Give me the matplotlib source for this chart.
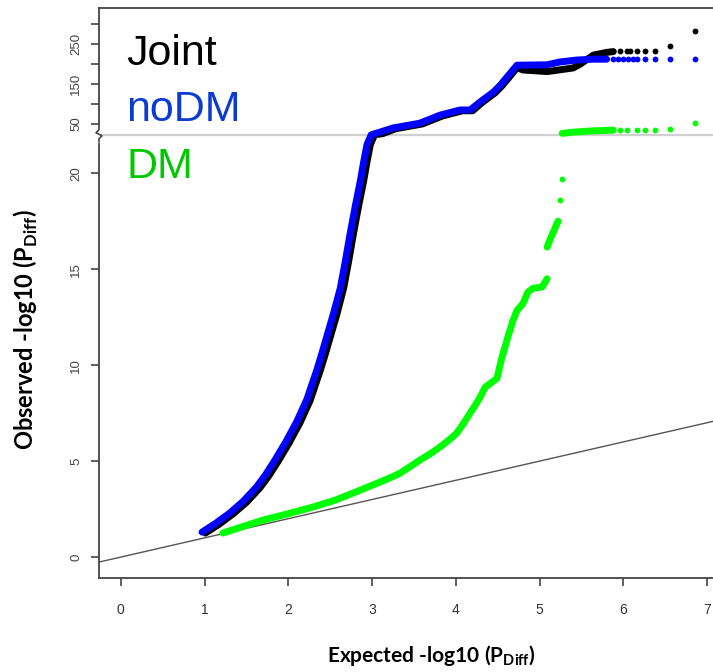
import numpy as np
import matplotlib
matplotlib.use("Agg")
import matplotlib.pyplot as plt

plt.rcParams.update({
    "font.family": ["Liberation Sans", "DejaVu Sans"],
    "mathtext.fontset": "custom",
    "mathtext.rm": "Lato",
    "mathtext.bf": "Lato:bold",
})

# QQ data (expected vs observed -log10 P)
# dense parts are drawn as thick bands, tails as single dots
joint_x = [1.01, 1.17, 1.34, 1.50, 1.66, 1.77, 1.88, 2.01, 2.14, 2.26, 2.38,
           2.44, 2.50, 2.58, 2.66, 2.72, 2.78, 2.84, 2.90, 2.94, 2.98, 3.03,
           3.13, 3.28, 3.60, 3.84, 4.08, 4.20, 4.31, 4.47, 4.55, 4.63, 4.73, 4.80,
           5.09, 5.40, 5.48, 5.64, 5.80, 5.88]
joint_y = [1.25, 1.70, 2.25, 2.85, 3.60, 4.25, 5.00, 5.95, 7.00, 8.15, 9.70,
           10.55, 11.45, 12.65, 14.0, 15.4, 16.9, 18.3, 19.6, 20.6, 21.5, 22.0,
           25, 37, 49, 69, 82, 82, 102, 127, 144, 164, 190, 184,
           180, 189, 198, 221, 228, 230]
joint_tail_x = [5.96, 6.04, 6.08, 6.16, 6.26, 6.38, 6.56, 6.86]
joint_tail_y = [231, 232, 232, 232, 232, 232, 245, 282]

nodm_x = [0.97, 1.13, 1.30, 1.46, 1.62, 1.73, 1.84, 1.97, 2.10, 2.22, 2.34,
          2.40, 2.46, 2.54, 2.62, 2.68, 2.74, 2.80, 2.86, 2.90, 2.94, 2.99,
          3.10, 3.25, 3.57, 3.81, 4.05, 4.17, 4.29, 4.45, 4.53, 4.61, 4.73,
          5.09, 5.24, 5.45, 5.64, 5.80]
nodm_y = [1.30, 1.75, 2.29, 2.90, 3.65, 4.30, 5.05, 6.00, 7.05, 8.20, 9.74,
          10.6, 11.5, 12.7, 14.0, 15.4, 16.9, 18.3, 19.6, 20.6, 21.5, 22.0,
          29, 39, 51, 71, 84, 84, 104, 129, 146, 166, 196,
          197, 204, 209, 211, 211]
nodm_tail_x = [5.88, 5.93, 5.99, 6.05, 6.11, 6.16, 6.26, 6.38, 6.56, 6.86]
nodm_tail_y = [211, 211, 211, 211, 211, 211, 211, 211, 211, 211]

dm_x = [1.22, 1.45, 1.70, 2.00, 2.29, 2.55, 2.77, 2.95, 3.09, 3.20, 3.33, 3.45,
        3.57, 3.70, 3.81, 3.91, 4.01, 4.09, 4.17, 4.23, 4.29, 4.35,
        4.49, 4.55, 4.62, 4.68, 4.73, 4.80, 4.86, 4.92, 5.03, 5.09]
dm_y = [1.25, 1.58, 1.93, 2.26, 2.6, 2.95, 3.33, 3.65, 3.9, 4.1, 4.36, 4.70,
        5.05, 5.40, 5.73, 6.07, 6.45, 6.95, 7.5, 7.9, 8.33, 8.85,
        9.3, 10.4, 11.45, 12.3, 12.85, 13.2, 13.8, 14.0, 14.07, 14.5]
dm_mid_x = [5.09, 5.13, 5.17, 5.22]
dm_mid_y = [16.15, 16.6, 17.0, 17.5]
dm_top_x = [5.27, 5.40, 5.57, 5.75, 5.88]
dm_top_y = [25.5, 28.5, 31, 32.5, 33.5]
dm_tail_x = [5.24, 5.27, 5.96, 6.04, 6.16, 6.26, 6.38, 6.56, 6.86]
dm_tail_y = [18.6, 19.7, 34, 34, 34, 34, 34.5, 36, 52]

labels = ["Joint", "noDM", "DM"]
colors = ["black", "#0000ff", "#00ff00"]
text_colors = ["black", "#0b3bd0", "#00c800"]

BREAK = 22.0
RATIO = 0.4 / 19.2
XLIM = (-0.26, 7.07)
YLIM = (-1.09, 339)


def fwd(v):
    v = np.asarray(v, dtype=float)
    return np.where(v <= BREAK, v, BREAK + (v - BREAK) * RATIO)


def inv(t):
    t = np.asarray(t, dtype=float)
    return np.where(t <= BREAK, t, BREAK + (t - BREAK) / RATIO)


fig = plt.figure(figsize=(7.13, 6.72), dpi=100)
ax = fig.add_axes([99 / 713, 1 - 578 / 672, 1 - 99 / 713, (578 - 8) / 672])
ax.set_yscale("function", functions=(fwd, inv))

band = dict(linewidth=5, solid_capstyle="round", solid_joinstyle="round")
dot = dict(linestyle="none", marker="o", markersize=4.2, markeredgewidth=0)

ax.plot(XLIM, XLIM, color="#555555", linewidth=1.0, zorder=1)
ax.axhline(BREAK, color="#d0d0d0", linewidth=1.6, zorder=1)

ax.plot(joint_x, joint_y, color=colors[0], **band, zorder=3)
ax.plot(joint_tail_x, joint_tail_y, color=colors[0], **dot, zorder=3)
ax.plot(nodm_x, nodm_y, color=colors[1], **band, zorder=4)
ax.plot(nodm_tail_x, nodm_tail_y, color=colors[1], **dot, zorder=4)
ax.plot(dm_x, dm_y, color=colors[2], **band, zorder=5)
ax.plot(dm_mid_x, dm_mid_y, color=colors[2], **band, zorder=5)
ax.plot(dm_top_x, dm_top_y, color=colors[2], **band, zorder=5)
ax.plot(dm_tail_x, dm_tail_y, color=colors[2], **dot, zorder=5)

ax.set_xlim(XLIM)
ax.set_ylim(YLIM)

ax.set_xticks(range(0, 8))
yt = [0, 5, 10, 15, 20, 50, 100, 150, 200, 250, 300]
ax.set_yticks(yt)
ax.set_yticklabels([str(v) if v not in (100, 200, 300) else "" for v in yt],
                   rotation=90, va="center")
ax.tick_params(axis="both", direction="out", length=6, width=1.2,
               color="#444444", labelsize=9.5, labelcolor="#444444")
ax.tick_params(axis="x", pad=12, labelsize=10, labelcolor="#333333")
ax.tick_params(axis="y", pad=6)

for s in ["left", "bottom", "top"]:
    ax.spines[s].set_color("#444444")
    ax.spines[s].set_linewidth(1.3)
ax.spines["right"].set_visible(False)

# zigzag on the left axis at the break
fig.canvas.draw()
yb = (ax.transScale + ax.transLimits).transform((0, BREAK))[1]
h = 1 / 570
w = 1 / 614
ax.plot([0, 0], [yb - 6 * h, yb + 6 * h], color="white", linewidth=3,
        transform=ax.transAxes, clip_on=False, zorder=6)
ax.plot([0, 0, 3 * w, -3 * w, 0, 0],
        [yb - 7 * h, yb - 4 * h, yb - 1 * h, yb + 2 * h, yb + 5 * h, yb + 7 * h],
        color="#444444", linewidth=1.2, transform=ax.transAxes,
        clip_on=False, zorder=7)

for lab, c, base in zip(labels, text_colors, [65, 121, 178]):
    fig.text(126 / 713, 1 - base / 672, lab, color=c, fontsize=31,
             va="baseline", ha="left")

fig.text(431 / 713, 1 - 655 / 672, r"Expected -log10 (P$_{\mathbf{Diff}}$)",
         ha="center", va="center", fontsize=15, fontweight="bold", family="Lato")
fig.text(26 / 713, 1 - 330 / 672, r"Observed -log10 (P$_{\mathbf{Diff}}$)",
         ha="center", va="center", rotation=90, fontsize=17,
         fontweight="bold", family="Lato")

fig.savefig("out.png", dpi=100)
